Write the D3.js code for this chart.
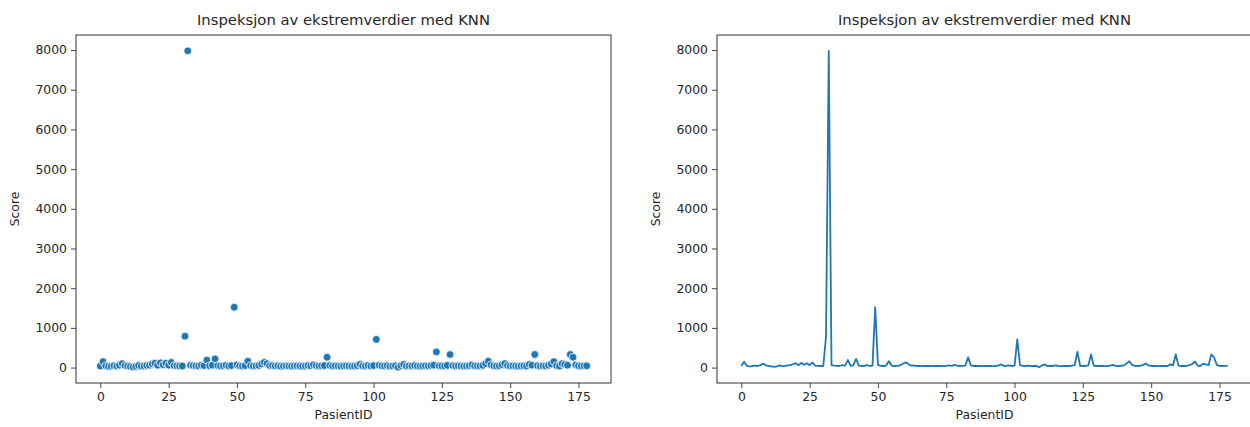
<!DOCTYPE html>
<html>
<head>
<meta charset="utf-8">
<script src="https://cdn.jsdelivr.net/npm/d3@7"></script>
<style>
    body { margin: 0; background: #fff; }
    svg { display: block; font-family: "DejaVu Sans", sans-serif; }
</style>
</head>
<body>
<div id="chart"></div>
<script>
// KNN outlier score per patient (PasientID = index)
const scores = [
    40, 150, 45, 30, 35, 50, 40, 60, 100, 55,
    40, 30, 15, 30, 55, 35, 40, 55, 60, 90,
    110, 60, 120, 70, 110, 60, 130, 50, 45, 40,
    40, 790, 7980, 60, 50, 45, 40, 60, 50, 190,
    45, 60, 220, 50, 40, 45, 60, 40, 50, 1520,
    70, 45, 40, 50, 160, 50, 40, 45, 55, 90,
    130, 100, 50, 55, 40, 45, 35, 40, 45, 40,
    35, 40, 45, 40, 35, 40, 55, 45, 70, 50,
    40, 45, 50, 260, 55, 40, 45, 40, 35, 40,
    45, 40, 35, 40, 50, 80, 45, 40, 55, 40,
    50, 710, 60, 45, 40, 50, 35, 40, 45, 10,
    50, 80, 40, 45, 40, 55, 40, 35, 40, 45,
    40, 50, 60, 395, 45, 40, 40, 55, 330, 50,
    40, 45, 40, 35, 40, 50, 70, 45, 40, 45,
    55, 100, 160, 70, 45, 40, 45, 70, 100, 55,
    40, 45, 40, 35, 40, 45, 40, 80, 60, 330,
    50, 40, 45, 40, 60, 90, 150, 50, 40, 100,
    80, 60, 330, 260, 70, 45, 40, 45, 45
];
const pasientIds = scores.map((d, i) => i);
const xTicks = [0, 25, 50, 75, 100, 125, 150, 175];
const yTicks = [0, 1000, 2000, 3000, 4000, 5000, 6000, 7000, 8000];
const chartTitle = "Inspeksjon av ekstremverdier med KNN";
const xLabel = "PasientID";
const yLabel = "Score";

const W = 1250, H = 427;
const blue = "#1f77b4";

const svg = d3.select("#chart").append("svg")
    .attr("width", W)
    .attr("height", H);

// matplotlib style 5% margins on both axes
const xMin = d3.min(pasientIds), xMax = d3.max(pasientIds);
const yMin = d3.min(scores), yMax = d3.max(scores);
const xPad = (xMax - xMin) * 0.05, yPad = (yMax - yMin) * 0.05;

function drawPanel(left, kind) {
    const top = 35, bottom = 383, right = left + 535;

    const x = d3.scaleLinear()
        .domain([xMin - xPad, xMax + xPad])
        .range([left, right]);
    const y = d3.scaleLinear()
        .domain([yMin - yPad, yMax + yPad])
        .range([bottom, top]);

    const g = svg.append("g");

    if (kind === "scatter") {
        g.selectAll(".dot")
            .data(scores)
            .enter().append("circle")
            .attr("class", "dot")
            .attr("cx", (d, i) => x(pasientIds[i]))
            .attr("cy", d => y(d))
            .attr("r", 3.9)
            .attr("fill", blue)
            .attr("stroke", "#fff")
            .attr("stroke-width", 0.8);
    } else {
        const line = d3.line()
            .x((d, i) => x(pasientIds[i]))
            .y(d => y(d));
        g.append("path")
            .datum(scores)
            .attr("d", line)
            .attr("fill", "none")
            .attr("stroke", blue)
            .attr("stroke-width", 1.8)
            .attr("stroke-linejoin", "round");
    }

    const xAxis = g.append("g")
        .attr("transform", `translate(0,${bottom})`)
        .call(d3.axisBottom(x).tickValues(xTicks).tickSize(5).tickPadding(4).tickFormat(d3.format("d")));
    const yAxis = g.append("g")
        .attr("transform", `translate(${left},0)`)
        .call(d3.axisLeft(y).tickValues(yTicks).tickSize(5).tickPadding(4).tickFormat(d3.format("d")));

    [xAxis, yAxis].forEach(a => {
        a.select(".domain").remove();
        a.selectAll(".tick line").attr("stroke", "#333").attr("stroke-width", 0.9);
        a.selectAll(".tick text")
            .attr("fill", "#262626")
            .style("font-size", "12.4px")
            .style("font-family", "'DejaVu Sans', sans-serif");
    });

    // frame
    g.append("rect")
        .attr("x", left)
        .attr("y", top)
        .attr("width", right - left)
        .attr("height", bottom - top)
        .attr("fill", "none")
        .attr("stroke", "#333")
        .attr("stroke-width", 1);

    g.append("text")
        .attr("x", (left + right) / 2)
        .attr("y", 25)
        .attr("text-anchor", "middle")
        .attr("fill", "#262626")
        .style("font-size", "14.8px")
        .text(chartTitle);

    g.append("text")
        .attr("x", (left + right) / 2)
        .attr("y", 419)
        .attr("text-anchor", "middle")
        .attr("fill", "#262626")
        .style("font-size", "12.4px")
        .text(xLabel);

    g.append("text")
        .attr("transform", `translate(${left - 57},${(top + bottom) / 2}) rotate(-90)`)
        .attr("text-anchor", "middle")
        .attr("fill", "#262626")
        .style("font-size", "12.4px")
        .text(yLabel);
}

drawPanel(76, "scatter");
drawPanel(717, "line");
</script>
</body>
</html>
